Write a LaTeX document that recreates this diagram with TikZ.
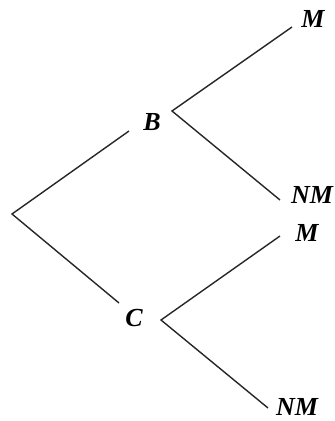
\documentclass[tikz,border=0pt]{standalone}
\usepackage{fontspec}
\setmainfont{Liberation Serif}
\begin{document}
\begin{tikzpicture}[x=1pt,y=-1pt,
  branch/.style={draw=black!85, line width=1.4pt},
  lab/.style={font=\fontsize{26}{30}\selectfont\bfseries\itshape, inner sep=0pt}]
\useasboundingbox (0,0) rectangle (335,421);
\coordinate (r) at (12,214);
\coordinate (bIn) at (129,131);
\coordinate (b) at (172,111);
\coordinate (bM) at (292,27);
\coordinate (bNM) at (280,200);
\coordinate (cIn) at (119,303);
\coordinate (c) at (161,320);
\coordinate (cM) at (280,236);
\coordinate (cNM) at (268,408);
\node[lab] (B) at (152,122) {B};
\node[lab] (C) at (134,318) {C};
\node[lab] (M1) at (313,19) {M};
\node[lab] (NM1) at (312,195) {NM};
\node[lab] (M2) at (307,233) {M};
\node[lab] (NM2) at (297,407) {NM};
\draw[branch] (bIn) -- (r) -- (cIn);
\draw[branch] (bM) -- (b) -- (bNM);
\draw[branch] (cM) -- (c) -- (cNM);
\end{tikzpicture}
\end{document}
